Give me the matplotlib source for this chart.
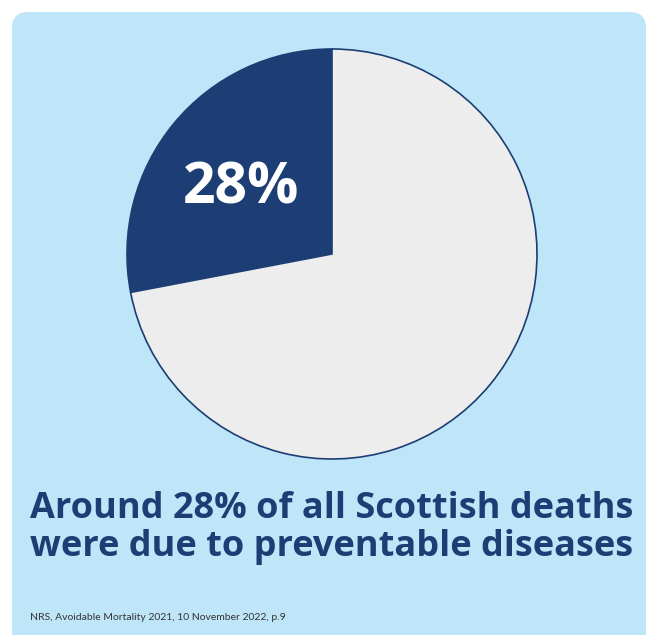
import matplotlib.pyplot as plt
from matplotlib.patches import FancyBboxPatch

# Data
labels = ["Preventable", "Other"]
shares = [28, 72]
slice_colors = ["#1d3e74", "#ededed"]
headline = ["Around 28% of all Scottish deaths", "were due to preventable diseases"]
source = "NRS, Avoidable Mortality 2021, 10 November 2022, p.9"

W, H = 649, 635
fig = plt.figure(figsize=(W / 100, H / 100), dpi=100)
ax = fig.add_axes([0, 0, 1, 1])

# light blue card behind everything
card = FancyBboxPatch((12, -40), 634, 663, boxstyle="round,pad=0,rounding_size=16",
                      facecolor="#bfe6f8", edgecolor="none", zorder=0)
ax.add_patch(card)

ax.pie(shares, colors=slice_colors, startangle=90, counterclock=True,
       center=(332, H - 254), radius=205, frame=True,
       wedgeprops=dict(edgecolor="#1d3e74", linewidth=1.2))
ax.set_xlim(0, W)
ax.set_ylim(0, H)
ax.set_aspect("auto")
ax.axis("off")

ax.text(241, H - 203, f"{shares[0]}%", color="white", fontsize=41, fontweight="bold",
        family="Open Sans", ha="center", va="baseline")

for line, base in zip(headline, [518, 556]):
    ax.text(332, H - base, line, color="#1d3e74", fontsize=26, fontweight="bold",
            family="Open Sans", ha="center", va="baseline")

ax.text(30, H - 617, source, color="#333333", fontsize=7.5, family="Lato",
        ha="left", va="center")

fig.savefig("out.png", dpi=100)
